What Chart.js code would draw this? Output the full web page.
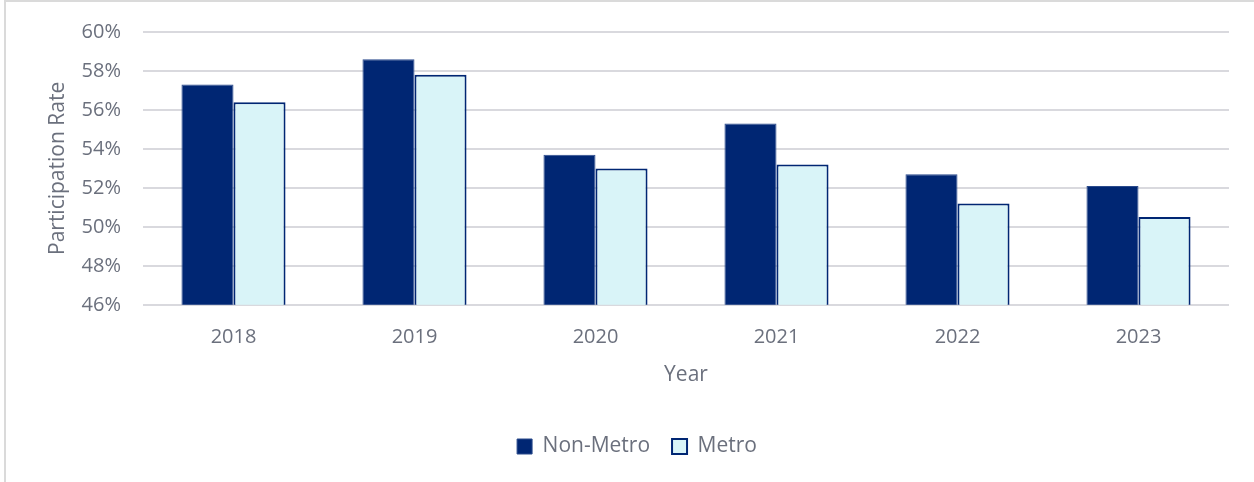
<!DOCTYPE html>
<html>
<head>
<meta charset="utf-8">
<script src="https://cdn.jsdelivr.net/npm/chart.js@4.4.0/dist/chart.umd.min.js"></script>
<style>
    html, body { margin: 0; padding: 0; background: #fff; }
    #wrap {
        position: absolute; left: 0; top: 0;
        width: 1254px; height: 482px;
        box-sizing: border-box;
        border-left: 2px solid #dadada;
        border-top: 2px solid #dadada;
        margin-left: 4px;
    }
    #rateChart { position: relative; top: -4px; }
</style>
</head>
<body>
<div id="wrap"><canvas id="rateChart"></canvas></div>
<script>
// Participation rate by year
const years = ['2018', '2019', '2020', '2021', '2022', '2023'];
const nonMetro = [57.3, 58.6, 53.7, 55.3, 52.7, 52.1];
const metro = [56.4, 57.8, 53.0, 53.2, 51.2, 50.5];
const yMin = 46;
const yMax = 60;
const yStep = 2;

const textColor = '#6b707d';
const gridColor = '#d9d9de';
const fontFamily = '"Open Sans", sans-serif';

const canvas = document.getElementById('rateChart');
canvas.width = 1248;
canvas.height = 484;

new Chart(canvas.getContext('2d'), {
    type: 'bar',
    data: {
        labels: years,
        datasets: [
            {
                label: 'Non-Metro',
                data: nonMetro,
                backgroundColor: '#002673',
                borderColor: '#2a4a8c',
                borderWidth: 1
            },
            {
                label: 'Metro',
                data: metro,
                backgroundColor: '#d9f4f8',
                borderColor: '#002673',
                borderWidth: 2
            }
        ]
    },
    options: {
        responsive: false,
        animation: false,
        categoryPercentage: 0.575,
        barPercentage: 1,
        layout: {
            padding: { left: 39, right: 25, top: 7, bottom: 15 }
        },
        plugins: {
            legend: {
                position: 'bottom',
                labels: {
                    color: textColor,
                    font: { family: fontFamily, size: 21 },
                    boxWidth: 15,
                    boxHeight: 15,
                    padding: 22
                }
            },
            tooltip: { enabled: false }
        },
        scales: {
            x: {
                grid: { display: false },
                border: { display: false },
                ticks: {
                    color: textColor,
                    font: { family: fontFamily, size: 20 },
                    padding: 12
                },
                title: {
                    display: true,
                    text: 'Year',
                    color: textColor,
                    font: { family: fontFamily, size: 21 },
                    padding: { top: 2, bottom: 26 }
                }
            },
            y: {
                min: yMin,
                max: yMax,
                afterFit: scale => { scale.width = 98; },
                ticks: {
                    stepSize: yStep,
                    color: textColor,
                    font: { family: fontFamily, size: 20 },
                    padding: 22,
                    callback: v => v + '%'
                },
                grid: {
                    color: gridColor,
                    lineWidth: 2,
                    drawTicks: false
                },
                border: { display: false },
                title: {
                    display: true,
                    text: 'Participation Rate',
                    color: textColor,
                    font: { family: fontFamily, size: 21 },
                    padding: 0
                }
            }
        }
    }
});
</script>
</body>
</html>
